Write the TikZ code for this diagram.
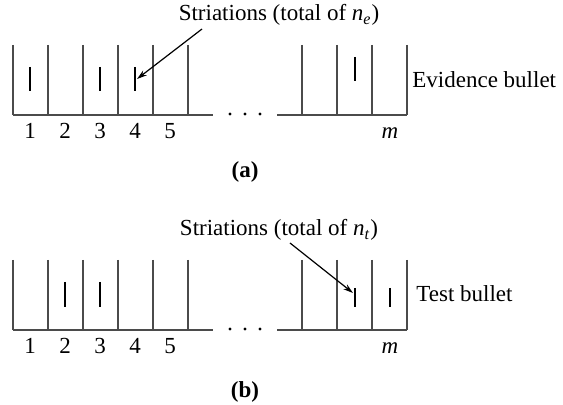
\documentclass[tikz,border=0pt]{standalone}
\usepackage{fontspec}
\setmainfont{Liberation Serif}
\usetikzlibrary{arrows.meta,positioning}
\definecolor{landgray}{RGB}{75,75,75}

\begin{document}
\begin{tikzpicture}[x=0.5pt, y=-0.5pt, font=\fontsize{11.5}{13}\selectfont,
  >={Stealth[length=5pt,width=3pt]},
  land/.style={draw=landgray, line width=0.8pt},
  stri/.style={draw=black, line width=0.6pt},
  txt/.style={inner sep=0pt, anchor=base},
  side/.style={inner sep=0pt, anchor=base west}]
\useasboundingbox (0,0) rectangle (563,405);

% --- (a) evidence bullet ---
\foreach \x in {13,48,83,118,153,188,302,337,372,407}{ \draw[land] (\x,45) -- (\x,115); }
\draw[land] (13,115) -- (213,115);
\draw[land] (277,115) -- (407,115);
\foreach \x in {230,245,260}{ \fill (\x,114) circle (0.8pt); }
\foreach \x in {30,100,135}{ \draw[stri] (\x,67) -- (\x,91); }
\draw[stri] (355,57) -- (355,81);
\foreach \n in {1,...,5}{ \node[txt] (na\n) at ({-5+35*\n},139) {\n}; }
\node[txt] (ma) at (390,139) {\textit{m}};
\node[side] (evid) at (412,88) {Evidence bullet};
\node[txt] (stra) at (279,21) {Striations (total of \textit{n}\textsubscript{\textit{e}})};
\coordinate (srca) at (202,29);
\coordinate (tipa) at (137,79);
\draw[->, stri] (srca) -- (tipa);
\node[txt, font=\fontsize{11.5}{13}\selectfont\bfseries] (capa) at (245,178) {(a)};

% --- (b) test bullet ---
\foreach \x in {13,48,83,118,153,188,302,337,372,407}{ \draw[land] (\x,260) -- (\x,330); }
\draw[land] (13,330) -- (213,330);
\draw[land] (277,330) -- (407,330);
\foreach \x in {230,245,260}{ \fill (\x,329) circle (0.8pt); }
\foreach \x in {65,100}{ \draw[stri] (\x,282) -- (\x,307); }
\foreach \x in {355,390}{ \draw[stri] (\x,288) -- (\x,307); }
\foreach \n in {1,...,5}{ \node[txt] (nb\n) at ({-5+35*\n},354) {\n}; }
\node[txt] (mb) at (390,354) {\textit{m}};
\node[side] (test) at (416,302) {Test bullet};
\node[txt] (strb) at (279,236) {Striations (total of \textit{n}\textsubscript{\textit{t}})};
\coordinate (srcb) at (290,243);
\coordinate (tipb) at (353,293);
\draw[->, stri] (srcb) -- (tipb);
\node[txt, font=\fontsize{11.5}{13}\selectfont\bfseries] (capb) at (245,398) {(b)};
\end{tikzpicture}
\end{document}
